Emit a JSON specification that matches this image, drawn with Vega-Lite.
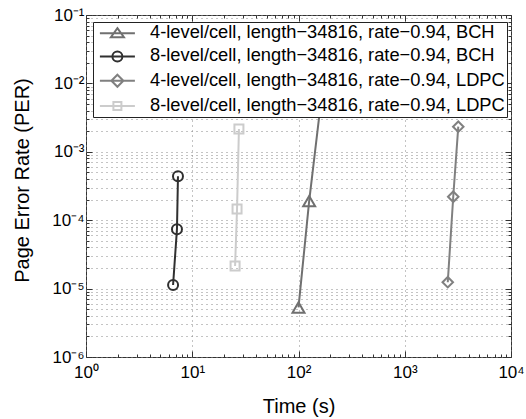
{
  "$schema": "https://vega.github.io/schema/vega-lite/v6.json",
  "width": 425,
  "height": 342,
  "autosize": "none",
  "padding": {"left": 86, "top": 15, "right": 15, "bottom": 62},
  "background": "white",
  "config": {
    "font": "Liberation Sans",
    "view": {"stroke": "#333333", "strokeWidth": 1},
    "legend": {
      "title": null, "orient": "none", "legendX": 7, "legendY": 7,
      "fillColor": "white", "strokeColor": "#222222", "padding": 2, "rowPadding": 4.3,
      "labelFontSize": 18.3, "labelColor": "#000000", "labelLimit": 1000,
      "symbolSize": 100, "symbolStrokeWidth": 2, "symbolOffset": 13.25, "labelOffset": 23.5
    }
  },
  "data": {
    "values": [
      {"series": "4-level/cell, length−34816, rate−0.94, BCH", "t": 100, "per": 5.3e-6},
      {"series": "4-level/cell, length−34816, rate−0.94, BCH", "t": 126, "per": 1.9e-4},
      {"series": "4-level/cell, length−34816, rate−0.94, BCH", "t": 159, "per": 4.0e-3},
      {"series": "8-level/cell, length−34816, rate−0.94, BCH", "t": 6.6, "per": 1.13e-5},
      {"series": "8-level/cell, length−34816, rate−0.94, BCH", "t": 7.18, "per": 7.4e-5},
      {"series": "8-level/cell, length−34816, rate−0.94, BCH", "t": 7.34, "per": 4.4e-4},
      {"series": "4-level/cell, length−34816, rate−0.94, LDPC", "t": 2540, "per": 1.24e-5},
      {"series": "4-level/cell, length−34816, rate−0.94, LDPC", "t": 2860, "per": 2.2e-4},
      {"series": "4-level/cell, length−34816, rate−0.94, LDPC", "t": 3190, "per": 2.33e-3},
      {"series": "8-level/cell, length−34816, rate−0.94, LDPC", "t": 25.3, "per": 2.14e-5},
      {"series": "8-level/cell, length−34816, rate−0.94, LDPC", "t": 26.4, "per": 1.46e-4},
      {"series": "8-level/cell, length−34816, rate−0.94, LDPC", "t": 27.5, "per": 2.15e-3}
    ]
  },
  "layer": [
    {
      "mark": {"type": "line", "strokeWidth": 2},
      "encoding": {
        "x": {
          "field": "t", "type": "quantitative",
          "scale": {"type": "log", "domain": [1, 10000], "nice": false},
          "axis": {
            "orient": "bottom",
            "values": [1,2,3,4,5,6,7,8,9,10,20,30,40,50,60,70,80,90,100,200,300,400,500,600,700,800,900,1000,2000,3000,4000,5000,6000,7000,8000,9000,10000],
            "labelExpr": "abs(log(datum.value)/LN10 - round(log(datum.value)/LN10)) < 0.001 ? '10' + ['⁰','¹','²','³','⁴'][round(log(datum.value)/LN10)] : ''",
            "labelFontSize": 17, "labelColor": "#000000", "labelOverlap": false, "labelFlush": false, "labelBound": false,
            "labelBaseline": "alphabetic", "labelPadding": 26,
            "tickSize": {"condition": {"test": "abs(log(datum.value)/LN10 - round(log(datum.value)/LN10)) < 0.001", "value": -6}, "value": -3},
            "tickColor": "#333333", "tickWidth": 1,
            "domain": false,
            "grid": true, "gridColor": "#888888", "gridDash": [1, 4], "gridWidth": 1,
            "gridOpacity": {"condition": {"test": "abs(log(datum.value)/LN10 - round(log(datum.value)/LN10)) < 0.001", "value": 1}, "value": 0},
            "title": "Time (s)", "titleFontSize": 20, "titleFontWeight": "normal", "titleColor": "#000000",
            "titleY": 55, "titleBaseline": "alphabetic"
          }
        },
        "y": {
          "field": "per", "type": "quantitative",
          "scale": {"type": "log", "domain": [1e-6, 0.1], "nice": false},
          "axis": {
            "orient": "left",
            "values": [1e-6,2e-6,3e-6,4e-6,5e-6,6e-6,7e-6,8e-6,9e-6,1e-5,2e-5,3e-5,4e-5,5e-5,6e-5,7e-5,8e-5,9e-5,1e-4,2e-4,3e-4,4e-4,5e-4,6e-4,7e-4,8e-4,9e-4,0.001,0.002,0.003,0.004,0.005,0.006,0.007,0.008,0.009,0.01,0.02,0.03,0.04,0.05,0.06,0.07,0.08,0.09,0.1],
            "labelExpr": "abs(log(datum.value)/LN10 - round(log(datum.value)/LN10)) < 0.001 ? '10⁻' + ['⁰','¹','²','³','⁴','⁵','⁶'][-round(log(datum.value)/LN10)] : ''",
            "labelFontSize": 17, "labelColor": "#000000", "labelOverlap": false, "labelFlush": false, "labelBound": false,
            "labelPadding": 8,
            "tickSize": {"condition": {"test": "abs(log(datum.value)/LN10 - round(log(datum.value)/LN10)) < 0.001", "value": -6}, "value": -3},
            "tickColor": "#333333", "tickWidth": 1,
            "domain": false,
            "grid": true, "gridColor": "#888888", "gridDash": [1, 4], "gridWidth": 1,
            "title": "Page Error Rate (PER)", "titleFontSize": 20, "titleFontWeight": "normal", "titleColor": "#000000",
            "titleX": -58, "titleY": 165, "titleAngle": -90, "titleBaseline": "alphabetic", "titleAlign": "center"
          }
        },
        "color": {
          "field": "series", "type": "nominal",
          "scale": {
            "domain": ["4-level/cell, length−34816, rate−0.94, BCH", "8-level/cell, length−34816, rate−0.94, BCH", "4-level/cell, length−34816, rate−0.94, LDPC", "8-level/cell, length−34816, rate−0.94, LDPC"],
            "range": ["#707070", "#303030", "#808080", "#cccccc"]
          },
          "legend": {
            "encode": {
              "symbols": {
                "update": {
                  "shape": {"signal": "['M-3.5,0H3.5M0,-1L1.3,0.8L-1.3,0.8Z', 'M-3.5,0H3.5M1,0A1,1,0,1,1,-1,0A1,1,0,1,1,1,0Z', 'M-3.5,0H3.5M0,-1.2L1.2,0L0,1.2L-1.2,0Z', 'M-3.5,0H3.5M-0.8,-0.8H0.8V0.8H-0.8Z'][datum.index]"},
                  "fill": {"value": "transparent"},
                  "strokeWidth": {"value": 2}
                }
              }
            }
          }
        }
      }
    },
    {
      "transform": [{"filter": "datum.series === '4-level/cell, length−34816, rate−0.94, BCH'"}],
      "mark": {"type": "point", "shape": "triangle-up", "size": 144, "filled": false, "strokeWidth": 2, "opacity": 1},
      "encoding": {
        "x": {
          "field": "t", "type": "quantitative",
          "scale": {"type": "log", "domain": [1, 10000], "nice": false},
          "axis": {
            "orient": "top",
            "values": [1,2,3,4,5,6,7,8,9,10,20,30,40,50,60,70,80,90,100,200,300,400,500,600,700,800,900,1000,2000,3000,4000,5000,6000,7000,8000,9000,10000],
            "labels": false, "domain": false, "grid": false, "title": null,
            "tickSize": {"condition": {"test": "abs(log(datum.value)/LN10 - round(log(datum.value)/LN10)) < 0.001", "value": -6}, "value": -3},
            "tickColor": "#333333", "tickWidth": 1
          }
        },
        "y": {
          "field": "per", "type": "quantitative",
          "scale": {"type": "log", "domain": [1e-6, 0.1], "nice": false},
          "axis": {
            "orient": "right",
            "values": [1e-6,2e-6,3e-6,4e-6,5e-6,6e-6,7e-6,8e-6,9e-6,1e-5,2e-5,3e-5,4e-5,5e-5,6e-5,7e-5,8e-5,9e-5,1e-4,2e-4,3e-4,4e-4,5e-4,6e-4,7e-4,8e-4,9e-4,0.001,0.002,0.003,0.004,0.005,0.006,0.007,0.008,0.009,0.01,0.02,0.03,0.04,0.05,0.06,0.07,0.08,0.09,0.1],
            "labels": false, "domain": false, "grid": false, "title": null,
            "tickSize": {"condition": {"test": "abs(log(datum.value)/LN10 - round(log(datum.value)/LN10)) < 0.001", "value": -6}, "value": -3},
            "tickColor": "#333333", "tickWidth": 1
          }
        },
        "color": {"field": "series", "type": "nominal", "legend": null}
      }
    },
    {
      "transform": [{"filter": "datum.series === '8-level/cell, length−34816, rate−0.94, BCH'"}],
      "mark": {"type": "point", "shape": "circle", "size": 100, "filled": false, "strokeWidth": 2, "opacity": 1},
      "encoding": {
        "x": {"field": "t", "type": "quantitative", "axis": null},
        "y": {"field": "per", "type": "quantitative", "axis": null},
        "color": {"field": "series", "type": "nominal", "legend": null}
      }
    },
    {
      "transform": [{"filter": "datum.series === '4-level/cell, length−34816, rate−0.94, LDPC'"}],
      "mark": {"type": "point", "shape": "diamond", "size": 110, "filled": false, "strokeWidth": 2, "opacity": 1},
      "encoding": {
        "x": {"field": "t", "type": "quantitative", "axis": null},
        "y": {"field": "per", "type": "quantitative", "axis": null},
        "color": {"field": "series", "type": "nominal", "legend": null}
      }
    },
    {
      "transform": [{"filter": "datum.series === '8-level/cell, length−34816, rate−0.94, LDPC'"}],
      "mark": {"type": "point", "shape": "square", "size": 81, "filled": false, "strokeWidth": 2, "opacity": 1},
      "encoding": {
        "x": {"field": "t", "type": "quantitative", "axis": null},
        "y": {"field": "per", "type": "quantitative", "axis": null},
        "color": {"field": "series", "type": "nominal", "legend": null}
      }
    }
  ],
  "resolve": {"axis": {"x": "independent", "y": "independent"}}
}
